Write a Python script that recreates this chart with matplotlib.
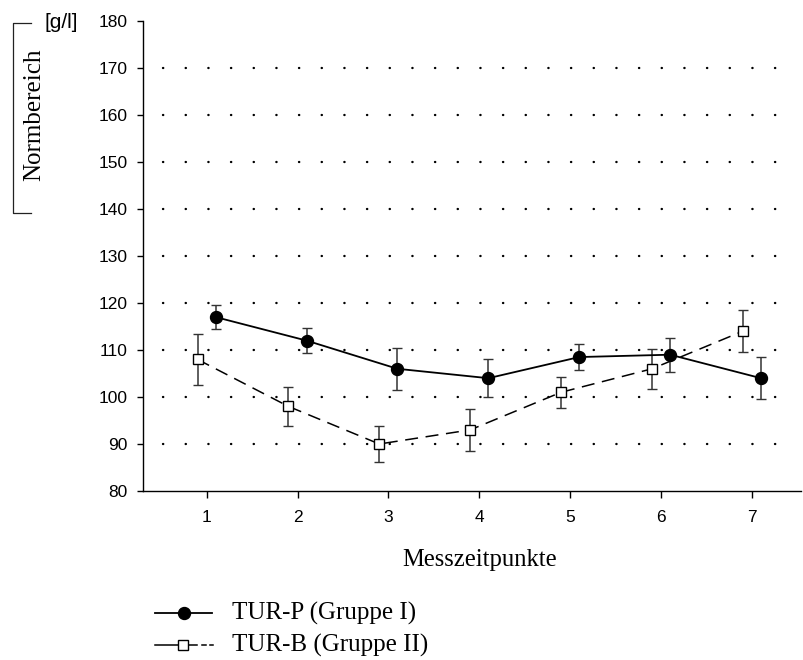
import matplotlib
matplotlib.use("Agg")
import matplotlib.pyplot as plt
from matplotlib.lines import Line2D
import numpy as np

# Data
timepoints = [1, 2, 3, 4, 5, 6, 7]
tur_p = [117, 112, 106, 104, 108.5, 109, 104]
tur_p_err = [2.5, 2.6, 4.5, 4.0, 2.8, 3.6, 4.5]
tur_b = [108, 98, 90, 93, 101, 106, 114]
tur_b_err = [5.5, 4.2, 3.9, 4.5, 3.3, 4.3, 4.5]
yticks = [80, 90, 100, 110, 120, 130, 140, 150, 160, 170, 180]
grid_levels = [90, 100, 110, 120, 130, 140, 150, 160, 170]
label_p = "TUR-P (Gruppe I)"
label_b = "TUR-B (Gruppe II)"

serif = ["Liberation Serif", "DejaVu Serif"]
sans = ["Liberation Sans", "DejaVu Sans"]

W, H = 804, 660
def fx(px):
    return px / W
def fy(py):
    return 1 - py / H

fig = plt.figure(figsize=(8.04, 6.6), dpi=100)
ax = fig.add_axes([fx(143), fy(491), (801-143)/W, (491-21)/H])

x = np.array(timepoints, dtype=float)
off = 0.1

# grid lines (dotted)
for g in grid_levels:
    ax.plot([0.52, 7.47], [g, g], color="black", lw=1.7, linestyle=(0, (0.1, 9.5)),
            dash_capstyle="round", zorder=1)

ax.errorbar(x + off, tur_p, yerr=tur_p_err, color="black", lw=1.3, marker="o", ms=8.6,
            mfc="black", mec="black", capsize=3.3, elinewidth=1.1, ecolor="#333333", zorder=3)
ax.errorbar(x - off, tur_b, yerr=tur_b_err, color="black", lw=1.1, linestyle=(0, (8.5, 5)),
            marker="s", ms=7.2, mfc="white", mec="black", mew=1.0, capsize=3.3, elinewidth=1.1,
            ecolor="#333333", zorder=3)

ax.set_xlim(0.3, 7.54)
ax.set_ylim(80, 180)
ax.set_yticks(yticks)
ax.set_xticks(timepoints)
for s in ["top", "right"]:
    ax.spines[s].set_visible(False)
for s in ["left", "bottom"]:
    ax.spines[s].set_linewidth(1.0)
ax.tick_params(axis="y", direction="out", length=4.5, width=1.0, labelsize=12.5, pad=6.5)
ax.tick_params(axis="x", direction="out", length=5, width=1.0, labelsize=12.5, pad=9)
for lab in ax.get_xticklabels() + ax.get_yticklabels():
    lab.set_family(sans)

fig.text(fx(480), fy(560), "Messzeitpunkte", ha="center", va="center",
         family=serif, fontsize=17.7)

# Normbereich bracket
fig.add_artist(Line2D([fx(31), fx(13), fx(13), fx(31)], [fy(22.5), fy(22.5), fy(212.5), fy(212.5)],
                      color="#222222", lw=0.9))
fig.text(fx(34), fy(114.5), "Normbereich", rotation=90, ha="center", va="center",
         family=serif, fontsize=18)
fig.text(fx(61.5), fy(22), "[g/l]", ha="center", va="center", family=sans, fontsize=15)

# Legend (manual)
ly1, ly2 = fy(613), fy(645)
fig.add_artist(Line2D([fx(155), fx(212)], [ly1, ly1], color="black", lw=1.3))
fig.add_artist(Line2D([fx(184)], [ly1], marker="o", ms=8.6, color="black"))
fig.text(fx(232), ly1, label_p, va="center", ha="left", family=serif, fontsize=18)
fig.add_artist(Line2D([fx(155), fx(197)], [ly2, ly2], color="black", lw=1.1))
fig.add_artist(Line2D([fx(202), fx(206)], [ly2, ly2], color="black", lw=1.1))
fig.add_artist(Line2D([fx(210), fx(213)], [ly2, ly2], color="black", lw=1.1))
fig.add_artist(Line2D([fx(183)], [ly2], marker="s", ms=7, mfc="white", mec="black",
                      mew=1.0, color="black"))
fig.text(fx(232), ly2, label_b, va="center", ha="left", family=serif, fontsize=18)

fig.savefig("out.png", dpi=100)
